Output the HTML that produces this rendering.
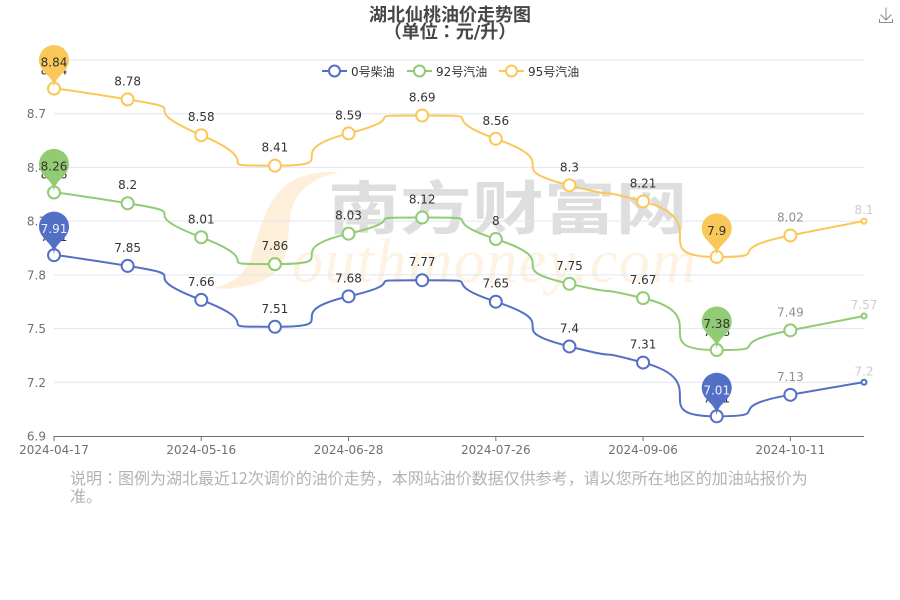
<!DOCTYPE html>
<html>
<head>
<meta charset="utf-8">
<title>湖北仙桃油价走势图</title>
<style>
html,body{margin:0;padding:0;background:#fff;}
#chart-root{position:relative;width:900px;height:600px;overflow:hidden;font-family:"DejaVu Sans","Noto Sans CJK JP",sans-serif;}
#chart{position:absolute;left:0;top:0;}
#note{position:absolute;left:70px;top:468px;width:750px;font-family:"Noto Sans CJK JP",sans-serif;font-size:16px;line-height:18px;color:#b3b3b3;}
</style>
</head>
<body>
<div id="chart-root">
<svg id="chart" width="900" height="600" viewBox="0 0 900 600" xmlns="http://www.w3.org/2000/svg">
  <g>
    <path fill="#feefdb" d="M340 172 C312 170 287 178 274 198 C262 216 257 240 250 260 C243 276 230 284 213 288 C224 289 228 289 233 288 C254 286 271 280 280 266 C288 254 288 238 290 217 C293 198 303 180 340 172 Z"/>
    <text x="292" y="282" font-family="Liberation Serif, serif" font-style="italic" font-size="62" fill="#fef2e2" textLength="404" lengthAdjust="spacing">outhmoney.com</text>
    <text transform="translate(328,229) scale(1.24,1)" font-family="'Noto Sans CJK SC', sans-serif" font-weight="700" font-size="58" fill="#dedede">南方财富网</text>
  </g>
  <g id="grid-layer"></g>
  <g id="axis-layer"></g>
  <g id="series-layer"></g>
  <g id="pin-layer"></g>
  <g id="legend-layer"></g>
  <text x="450" y="21" text-anchor="middle" font-size="18" font-weight="bold" fill="#464646">湖北仙桃油价走势图</text>
  <text x="450" y="38" text-anchor="middle" font-size="18" font-weight="bold" fill="#464646">（单位：元/升）</text>
  <g fill="none" stroke="#8a8a8a" stroke-width="1" style="cursor:pointer">
    <path d="M886 7.500 V20 M880.500 14.500 L886 20 L891.500 14.500"/>
    <path d="M879.500 19 V22.500 H892.500 V19"/>
  </g>
</svg>
<div id="note">说明：图例为湖北最近12次调价的油价走势，本网站油价数据仅供参考，请以您所在地区的加油站报价为准。</div>
</div>
<script>
const categories = ['2024-04-17','2024-04-30','2024-05-16','2024-06-13','2024-06-28','2024-07-11','2024-07-26','2024-08-22','2024-09-06','2024-09-20','2024-10-11','2024-10-25'];
const diesel0 = [7.91,7.85,7.66,7.51,7.68,7.77,7.65,7.4,7.31,7.01,7.13,7.2];
const gasoline92 = [8.26,8.2,8.01,7.86,8.03,8.12,8,7.75,7.67,7.38,7.49,7.57];
const gasoline95 = [8.84,8.78,8.58,8.41,8.59,8.69,8.56,8.3,8.21,7.9,8.02,8.1];
const yTicks = [6.9,7.2,7.5,7.8,8.1,8.4,8.7,9];
const seriesNames = ['0号柴油','92号汽油','95号汽油'];

const NS = 'http://www.w3.org/2000/svg';
const plot = {left:54,right:864,top:60,bottom:436};
const yMin = yTicks[0], yMax = yTicks[yTicks.length-1];
const colors = ['#5470c6','#91cc75','#fac858'];
const pinTextColors = ['#eef0f8','#333333','#333333'];
const allSeries = [diesel0,gasoline92,gasoline95];

function xAt(i){return plot.left+(plot.right-plot.left)*i/(categories.length-1);}
function yAt(v){return plot.bottom-(v-yMin)/(yMax-yMin)*(plot.bottom-plot.top);}
function mk(tag,attrs,parent,text){
  const el=document.createElementNS(NS,tag);
  for(const k in attrs){el.setAttribute(k,attrs[k]);}
  if(text!==undefined){el.textContent=text;}
  parent.appendChild(el);
  return el;
}
function clamp(v,a,b){return Math.max(Math.min(a,b),Math.min(v,Math.max(a,b)));}
function smoothPath(pts,smooth){
  let d='M'+pts[0][0]+' '+pts[0][1];
  let cx0=pts[0][0],cy0=pts[0][1];
  for(let i=1;i<pts.length;i++){
    const p=pts[i-1],c=pts[i],n=pts[i+1];
    let cx1=c[0],cy1=c[1],nx=c[0],ny=c[1];
    if(n){
      const lp=Math.hypot(c[0]-p[0],c[1]-p[1]),ln=Math.hypot(n[0]-c[0],n[1]-c[1]);
      const r=ln/(ln+lp);
      nx=clamp(c[0]+(n[0]-p[0])*smooth*r,n[0],c[0]);
      ny=clamp(c[1]+(n[1]-p[1])*smooth*r,n[1],c[1]);
      cx1=clamp(c[0]-(nx-c[0])*lp/ln,p[0],c[0]);
      cy1=clamp(c[1]-(ny-c[1])*lp/ln,p[1],c[1]);
      nx=c[0]+(c[0]-cx1)*ln/lp;
      ny=c[1]+(c[1]-cy1)*ln/lp;
    }
    d+=' C'+cx0+' '+cy0+' '+cx1+' '+cy1+' '+c[0]+' '+c[1];
    cx0=nx;cy0=ny;
  }
  return d;
}
function pinPath(x,y){
  const w=30,h=50,r=w/2,dy=r*r/(h-r),cy=y-h+r+dy,ang=Math.asin(dy/r),dx=Math.cos(ang)*r;
  const tx=Math.sin(ang),ty=Math.cos(ang),c1=r*0.6,c2=r*0.7;
  return 'M'+(x-dx)+' '+(cy+dy)+' A'+r+' '+r+' 0 1 1 '+(x+dx)+' '+(cy+dy)+
    ' C'+(x+dx-tx*c1)+' '+(cy+dy+ty*c1)+' '+x+' '+(y-c2)+' '+x+' '+y+
    ' C'+x+' '+(y-c2)+' '+(x-dx+tx*c1)+' '+(cy+dy+ty*c1)+' '+(x-dx)+' '+(cy+dy)+' Z';
}

const gridLayer=document.getElementById('grid-layer');
const axisLayer=document.getElementById('axis-layer');
const seriesLayer=document.getElementById('series-layer');
const pinLayer=document.getElementById('pin-layer');
const legendLayer=document.getElementById('legend-layer');

yTicks.forEach(function(t){
  if(t!==yMin){
    const g=mk('line',{x1:plot.left,x2:plot.right,y1:yAt(t),y2:yAt(t),stroke:'#e0e6f1','stroke-width':1},gridLayer);
    
    
  }
  const lab=mk('text',{x:46,y:yAt(t)+4.5,'text-anchor':'end','font-size':12,fill:'#6e7079'},axisLayer,String(t));
  
  
});
const axisLine=mk('line',{x1:plot.left,x2:plot.right,y1:plot.bottom+0.5,y2:plot.bottom+0.5,stroke:'#6e7079','stroke-width':1},axisLayer);


categories.forEach(function(c,i){
  if(i%2!==0){return;}
  const tick=mk('line',{x1:xAt(i),x2:xAt(i),y1:plot.bottom,y2:plot.bottom+5,stroke:'#6e7079','stroke-width':1},axisLayer);
  
  
  const lab=mk('text',{x:xAt(i),y:plot.bottom+18,'text-anchor':'middle','font-size':12,fill:'#6e7079'},axisLayer,c);
  
  
});

allSeries.forEach(function(vals,s){
  const g=mk('g',{},seriesLayer);
  
  
  const pts=vals.map(function(v,i){return [xAt(i),yAt(v)];});
  const line=mk('path',{d:smoothPath(pts,1),fill:'none',stroke:colors[s],'stroke-width':2,'stroke-linejoin':'round'},g);
  
  
  const last=vals.length-1;
  vals.forEach(function(v,i){
    const pt=mk('circle',{cx:xAt(i),cy:yAt(v),r:i===last?2.5:6,fill:'#fff',stroke:colors[s],'stroke-width':2},g);
    
    
    const op=i===last?0.25:(i===last-1?0.55:1);
    const lab=mk('text',{x:xAt(i),y:yAt(v)-(i===last?7:14),'text-anchor':'middle','font-size':12,fill:'#333','fill-opacity':op},g,String(v));
    
    
  });
  [0,vals.indexOf(Math.min.apply(null,vals))].forEach(function(i){
    const x=xAt(i),y=yAt(vals[i]);
    const pin=mk('path',{d:pinPath(x,y),fill:colors[s]},pinLayer);
    
    
    const t=mk('text',{x:x,y:y-22,'text-anchor':'middle','font-size':12,fill:pinTextColors[s]},pinLayer,String(vals[i]));
    
    
  });
});

const legendX=[322,407,499];
seriesNames.forEach(function(n,s){
  const g=mk('g',{style:'cursor:pointer'},legendLayer);
  
  
  const x=legendX[s];
  mk('line',{x1:x,x2:x+25,y1:71,y2:71,stroke:colors[s],'stroke-width':2},g);
  mk('circle',{cx:x+12.5,cy:71,r:5.5,fill:'#fff',stroke:colors[s],'stroke-width':2},g);
  mk('text',{x:x+29,y:76,'font-size':12,fill:'#333'},g,n);
});
</script>
</body>
</html>
